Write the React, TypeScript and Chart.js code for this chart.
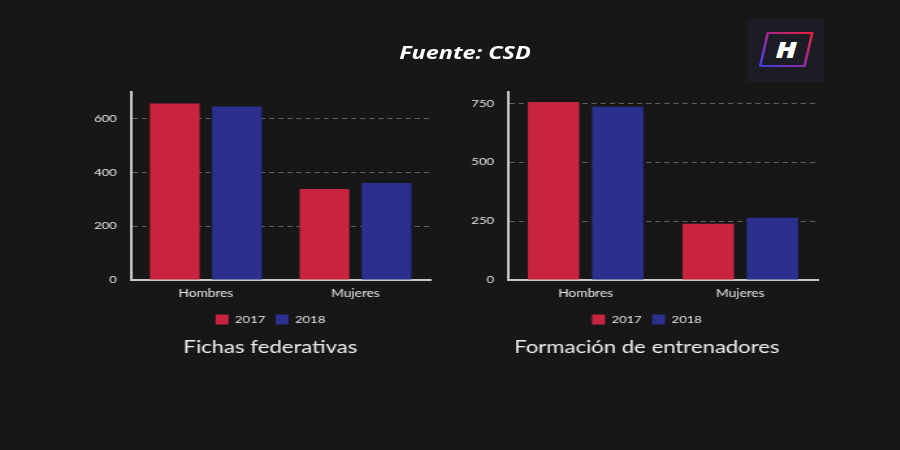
import React, { useEffect, useRef } from "react";
import { Chart, registerables } from "chart.js";
Chart.register(...registerables);

const categories = ["Hombres", "Mujeres"];
const seriesLabels = ["2017", "2018"];
const fichas2017 = [655, 338];
const fichas2018 = [644, 360];
const formacion2017 = [755, 239];
const formacion2018 = [735, 264];
const fichasTicks = [0, 200, 400, 600];
const formacionTicks = [0, 250, 500, 750];
const fichasMax = 700;
const formacionMax = 800;

const RED = "#c8243f";
const BLUE = "#2b2f8e";
const TEXT = "#e6e6e6";
const FONT = "Lato, 'Open Sans', sans-serif";
const TICK_SIZE = 10;
const TICK_GAP = 11;
const SX = 1.3; // the reference is stretched horizontally

function widestLabel(values: number[]): number {
  const c = document.createElement("canvas").getContext("2d");
  if (!c) return 18;
  c.font = `${TICK_SIZE}px ${FONT}`;
  return Math.max(...values.map((v) => c.measureText(String(v)).width));
}

type PanelProps = {
  title: string;
  d2017: number[];
  d2018: number[];
  ticks: number[];
  max: number;
  left: number;
  top: number;
  width: number;
  height: number;
  axisWidth: number;
  padding: { left: number; right: number; top: number; bottom: number };
};

function Panel(p: PanelProps) {
  const ref = useRef<HTMLCanvasElement>(null);
  useEffect(() => {
    if (!ref.current) return;
    const widest = widestLabel(p.ticks);
    const chart = new Chart(ref.current, {
      type: "bar",
      data: {
        labels: categories,
        datasets: [
          { label: seriesLabels[0], data: p.d2017, backgroundColor: RED, borderWidth: 0 },
          { label: seriesLabels[1], data: p.d2018, backgroundColor: BLUE, borderWidth: 0 },
        ],
      },
      options: {
        animation: false,
        responsive: false,
        maintainAspectRatio: false,
        layout: { padding: p.padding },
        datasets: { bar: { barPercentage: 0.8, categoryPercentage: 0.83 } },
        scales: {
          x: {
            grid: { display: false, drawTicks: false },
            border: { display: true, color: "#c8c8c8", width: 2 },
            ticks: { color: TEXT, font: { family: FONT, size: 10.5 }, padding: 7 },
          },
          y: {
            min: 0,
            max: p.max,
            afterBuildTicks: (axis: any) => {
              axis.ticks = p.ticks.map((v) => ({ value: v }));
            },
            afterFit: (axis: any) => {
              axis.width = p.axisWidth;
            },
            grid: {
              drawTicks: false,
              color: (ctx: any) => (ctx.tick && ctx.tick.value === 0 ? "rgba(0,0,0,0)" : "#606060"),
              lineWidth: 1,
            },
            border: { display: true, color: "#c8c8c8", width: 2, dash: [4, 3] },
            ticks: {
              color: TEXT,
              font: { family: FONT, size: TICK_SIZE },
              mirror: true,
              crossAlign: "far",
              padding: -TICK_GAP - widest,
            },
          },
        },
        plugins: {
          legend: {
            position: "bottom",
            labels: {
              color: TEXT,
              boxWidth: 10,
              boxHeight: 10,
              padding: 8,
              font: { family: FONT, size: 10 },
            },
          },
          title: {
            display: true,
            position: "bottom",
            text: p.title,
            color: "#eeeeee",
            font: { family: FONT, size: 17, weight: "normal" },
            padding: { top: 3, bottom: 0 },
          },
          tooltip: { enabled: false },
        },
      },
    });
    return () => chart.destroy();
  }, []);
  return (
    <canvas
      ref={ref}
      width={p.width}
      height={p.height}
      style={{ position: "absolute", left: p.left, top: p.top, width: p.width, height: p.height }}
    />
  );
}

function Logo() {
  return (
    <svg
      width={59}
      height={64}
      style={{ position: "absolute", left: 575.4, top: 18 }}
      viewBox="0 0 59 64"
    >
      <defs>
        <linearGradient id="lg" x1="0" y1="1" x2="1" y2="0">
          <stop offset="0%" stopColor="#3d3ee0" />
          <stop offset="50%" stopColor="#9a2a9a" />
          <stop offset="100%" stopColor="#e8203c" />
        </linearGradient>
      </defs>
      <rect x={0} y={0} width={59} height={64} fill="#1c1d24" />
      <path d="M15.6 15 L49.8 15 L43.8 48 L9.8 48 Z" fill="none" stroke="url(#lg)" strokeWidth={2} strokeLinejoin="round" />
      <text
        x={29.8}
        y={40}
        textAnchor="middle"
        fill="#ffffff"
        style={{ fontFamily: "'Open Sans', sans-serif", fontWeight: 800, fontStyle: "italic", fontSize: 23 }}
      >
        H
      </text>
    </svg>
  );
}

export default function App() {
  return (
    <div
      style={{
        position: "fixed",
        left: 0,
        top: 0,
        width: 900,
        height: 450,
        background: "#171717",
        overflow: "hidden",
      }}
    >
      <div
        style={{
          position: "absolute",
          left: 0,
          top: 0,
          width: 900 / SX,
          height: 450,
          transform: `scaleX(${SX})`,
          transformOrigin: "0 0",
        }}
      >
        <div
          style={{
            position: "absolute",
            left: 0,
            width: 715.4,
            top: 38,
            textAlign: "center",
            color: "#ffffff",
            fontFamily: "'Open Sans', sans-serif",
            fontWeight: 700,
            fontStyle: "italic",
            fontSize: 18,
            lineHeight: "28px",
          }}
        >
          Fuente: CSD
        </div>
        <Logo />
        <Panel
          title="Fichas federativas"
          d2017={fichas2017}
          d2018={fichas2018}
          ticks={fichasTicks}
          max={fichasMax}
          left={60}
          top={74}
          width={286}
          height={288}
          axisWidth={15.8}
          padding={{ left: 25, right: 15, top: 17.5, bottom: 4 }}
        />
        <Panel
          title="Formación de entrenadores"
          d2017={formacion2017}
          d2018={formacion2018}
          ticks={formacionTicks}
          max={formacionMax}
          left={350}
          top={74}
          width={287.2}
          height={288}
          axisWidth={24.8}
          padding={{ left: 16.2, right: 8, top: 17.5, bottom: 4 }}
        />
      </div>
    </div>
  );
}
